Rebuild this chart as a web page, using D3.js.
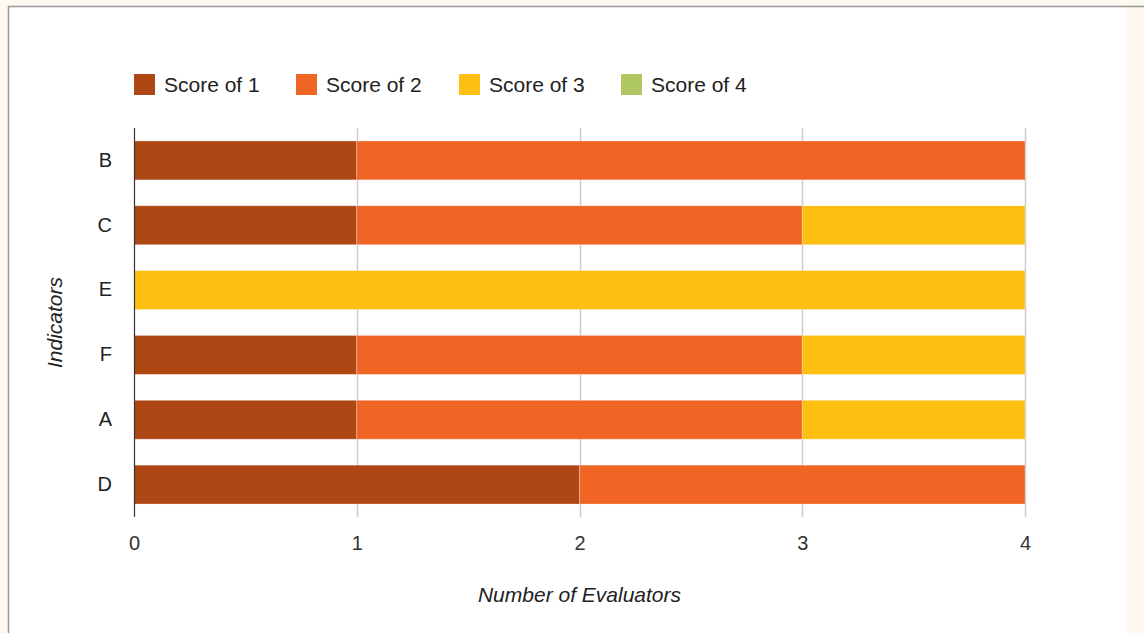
<!DOCTYPE html>
<html>
<head>
<meta charset="utf-8">
<script src="https://cdn.jsdelivr.net/npm/d3@7"></script>
<style>
  body { margin: 0; background: #fdf9f0; }
  svg { display: block; font-family: "Liberation Sans", Arial, sans-serif; }
</style>
</head>
<body>
<svg width="1144" height="633"></svg>
<script>
var indicators = ["B", "C", "E", "F", "A", "D"];
var seriesNames = ["Score of 1", "Score of 2", "Score of 3", "Score of 4"];
var seriesColors = ["#ae4714", "#f06424", "#fdc010", "#b0c862"];
var score1 = [1, 1, 0, 1, 1, 2];
var score2 = [3, 2, 0, 2, 2, 2];
var score3 = [0, 1, 4, 1, 1, 0];
var score4 = [0, 0, 0, 0, 0, 0];
var xTicks = [0, 1, 2, 3, 4];

var svg = d3.select("svg"),
    margin = {top: 128, right: 119, bottom: 116, left: 134},
    width = +svg.attr("width") - margin.left - margin.right,
    height = +svg.attr("height") - margin.top - margin.bottom;

// panel (white, border on top and left only)
svg.append("rect").attr("x", 8).attr("y", 6).attr("width", 1118).attr("height", 640).attr("fill", "#fff");
svg.append("line").attr("x1", 8.5).attr("x2", 8.5).attr("y1", 6).attr("y2", 633)
    .attr("stroke", "#999").attr("stroke-width", 1.5);
svg.append("line").attr("x1", 8).attr("x2", 1144).attr("y1", 6.5).attr("y2", 6.5)
    .attr("stroke", "#999").attr("stroke-width", 1.5);

var rows = indicators.map(function(k, i) {
  return {key: k, s0: score1[i], s1: score2[i], s2: score3[i], s3: score4[i]};
});
var stack = d3.stack().keys(["s0", "s1", "s2", "s3"])(rows);

var x = d3.scaleLinear().domain([0, 4]).range([0, width]);
var y = d3.scaleBand().domain(indicators).range([0, height]).paddingInner(0.4).paddingOuter(0.2);

var g = svg.append("g").attr("transform", "translate(" + margin.left + "," + margin.top + ")");

// gridlines
g.selectAll(".grid").data(xTicks.slice(1)).enter().append("line")
    .attr("class", "grid")
    .attr("x1", function(d) { return Math.round(x(d)) + 0.5; })
    .attr("x2", function(d) { return Math.round(x(d)) + 0.5; })
    .attr("y1", 0).attr("y2", height)
    .attr("stroke", "#cccccc").attr("stroke-width", 1.5);

g.selectAll(".layer").data(stack).enter().append("g")
    .attr("fill", function(d, i) { return seriesColors[i]; })
  .selectAll("rect").data(function(d) { return d.filter(function(p) { return p[1] > p[0]; }); })
  .enter().append("rect")
    .attr("x", function(d) { return x(d[0]); })
    .attr("width", function(d) { return x(d[1]) - x(d[0]); })
    .attr("y", function(d) { return y(d.data.key); })
    .attr("height", y.bandwidth())
    .attr("stroke", "#fff").attr("stroke-opacity", 0.35).attr("stroke-width", 0.8);

// baseline
g.append("line").attr("x1", 0.5).attr("x2", 0.5).attr("y1", 0).attr("y2", height)
    .attr("stroke", "#333").attr("stroke-width", 1.2);

// x axis
var xAxis = d3.axisBottom(x).tickValues(xTicks).tickFormat(d3.format("d")).tickSize(0).tickPadding(19);
var xa = g.append("g").attr("transform", "translate(0," + height + ")").call(xAxis)
    .attr("font-size", 20).attr("font-family", null);
xa.select(".domain").remove();
xa.selectAll("text").attr("fill", "#333");

// y axis
var yAxis = d3.axisLeft(y).tickSize(0).tickPadding(22);
var ya = g.append("g").call(yAxis).attr("font-size", 20).attr("font-family", null);
ya.select(".domain").remove();
ya.selectAll("text").attr("fill", "#222");

// axis titles
svg.append("text").attr("x", margin.left + width / 2).attr("y", 602)
    .attr("text-anchor", "middle").attr("font-size", 21).attr("font-style", "italic").attr("fill", "#222")
    .text("Number of Evaluators");
svg.append("text").attr("transform", "translate(62," + (margin.top + height / 2) + ") rotate(-90)")
    .attr("text-anchor", "middle").attr("font-size", 21).attr("font-style", "italic").attr("fill", "#222")
    .text("Indicators");

// legend
var legendX = [134, 296, 459, 621];
var legend = svg.append("g").selectAll("g").data(seriesNames).enter().append("g")
    .attr("transform", function(d, i) { return "translate(" + legendX[i] + ",74)"; });
legend.append("rect").attr("width", 21).attr("height", 21)
    .attr("fill", function(d, i) { return seriesColors[i]; });
legend.append("text").attr("x", 30).attr("y", 18).attr("font-size", 21).attr("fill", "#222")
    .text(function(d) { return d; });
</script>
</body>
</html>
